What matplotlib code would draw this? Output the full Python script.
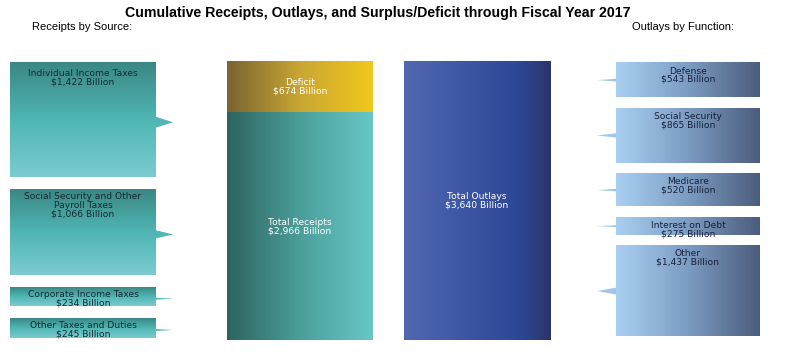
#cumulative receipts and outlays chart
import numpy as np
import matplotlib
matplotlib.use("Agg")
import matplotlib.pyplot as plt
from matplotlib.colors import LinearSegmentedColormap
from matplotlib.patches import Polygon

#data (billions of dollars)
receipt_labels = ["Individual Income Taxes", "Social Security and Other\nPayroll Taxes",
                  "Corporate Income Taxes", "Other Taxes and Duties"]
receipt_values = [1422, 1066, 234, 245]
outlay_labels = ["Defense", "Social Security", "Medicare", "Interest on Debt", "Other"]
outlay_values = [543, 865, 520, 275, 1437]
total_receipts = 2966
deficit = 674
total_outlays = 3640

def money(v):
    return "${:,} Billion".format(v)

#colour ramps
teal_v = LinearSegmentedColormap.from_list("tv", ["#3b8785", "#4fb6b3", "#7ccbd1"])
teal_h = LinearSegmentedColormap.from_list("th", ["#2e645f", "#4a9e9a", "#68c7c6"])
gold_h = LinearSegmentedColormap.from_list("gh", ["#7a6332", "#c9a634", "#f1c81c"])
blue_h = LinearSegmentedColormap.from_list("bh", [(0, "#5068b1"), (0.8, "#2b4695"), (1, "#2d3469")])
slate_h = LinearSegmentedColormap.from_list("sh", ["#a9d0f2", "#7c9cc2", "#4b5c7b"])

grad = np.linspace(0, 1, 256)

def box(ax, x0, y0, w, h, cmap, vertical=False):
    if vertical:
        img = grad.reshape(-1, 1)
    else:
        img = grad.reshape(1, -1)
    ax.imshow(img, cmap=cmap, extent=(x0, x0 + w, y0 + h, y0), aspect="auto",
              interpolation="bilinear", zorder=2)

fig = plt.figure(figsize=(8, 3.54), dpi=100)
ax = fig.add_axes([0, 0, 1, 1])

#titles
ax.text(378, 13, "Cumulative Receipts, Outlays, and Surplus/Deficit through Fiscal Year 2017",
        ha="center", va="center", fontsize=10.2, fontweight="bold", family="Liberation Sans")
ax.text(32, 27, "Receipts by Source:", ha="left", va="center", fontsize=8, family="Liberation Sans")
ax.text(632, 27, "Outlays by Function:", ha="left", va="center", fontsize=8, family="Liberation Sans")

#receipts by source boxes (left)
scale_l = 0.0805
y = 63
for i, (lab, v) in enumerate(zip(receipt_labels, receipt_values)):
    h = v * scale_l
    box(ax, 10, y, 146, h, teal_v, vertical=True)
    pad = 6 if i == 0 else 3
    ax.text(83, y + pad, lab + "\n" + money(v), ha="center", va="top", fontsize=6.6,
            color="#152a33", linespacing=0.92, zorder=4)
    yc = y + h / 2 + 2
    hw = max(min(h * 0.05, 6), 1.0)
    ax.add_patch(Polygon([(155, yc - hw), (173, yc), (155, yc + hw)], closed=True,
                         fc="#52b6b4", ec="none", zorder=1))
    y += h + 12

#middle stacked bars
scale_m = 279 / total_outlays
top = 61
hd = deficit * scale_m
hr = total_receipts * scale_m
box(ax, 227, top, 146, hd, gold_h)
box(ax, 227, top + hd, 146, hr, teal_h)
ax.text(300, top + hd / 2, "Deficit\n" + money(deficit), ha="center", va="center",
        fontsize=6.6, color="white", linespacing=0.92, zorder=4)
ax.text(300, top + hd + hr / 2, "Total Receipts\n" + money(total_receipts), ha="center",
        va="center", fontsize=6.6, color="white", linespacing=0.92, zorder=4)
ho = total_outlays * scale_m
box(ax, 404, top, 147, ho, blue_h)
ax.text(477, top + ho / 2, "Total Outlays\n" + money(total_outlays), ha="center",
        va="center", fontsize=6.6, color="white", linespacing=0.92, zorder=4)

#outlays by function boxes (right)
scale_r = 0.063
y = 63
for lab, v in zip(outlay_labels, outlay_values):
    h = v * scale_r
    box(ax, 616, y, 144, h, slate_h)
    ax.text(688, y + 3.5, lab + "\n" + money(v), ha="center", va="top", fontsize=6.6,
            color="#17203d", linespacing=0.92, zorder=4)
    yc = y + h / 2
    hw = max(min(h * 0.04, 4), 1.0)
    ax.add_patch(Polygon([(617, yc - hw), (597, yc), (617, yc + hw)], closed=True,
                         fc="#9ec6ea", ec="none", zorder=1))
    y += h + 11

ax.set_xlim(0, 800)
ax.set_ylim(354, 0)
ax.axis("off")

fig.savefig("out.png", dpi=100)
